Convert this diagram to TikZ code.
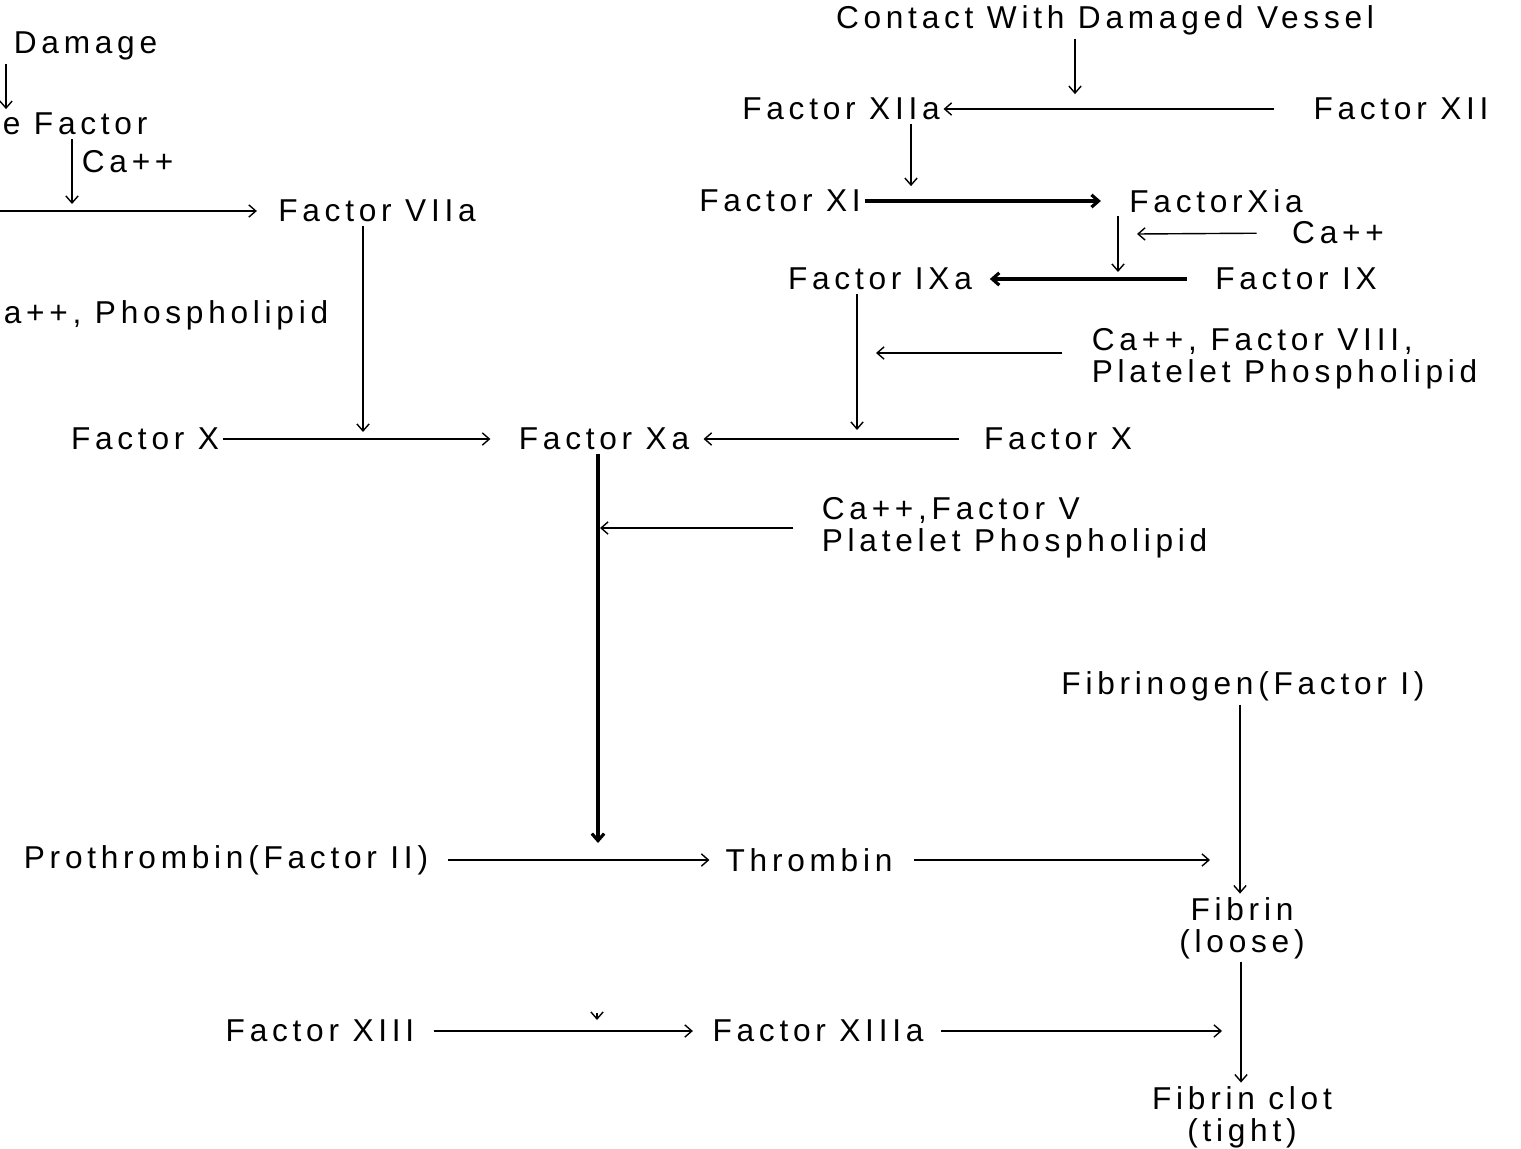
\documentclass[tikz,border=0pt]{standalone}
\usepackage{fontspec}
\setmainfont{Liberation Sans}[LetterSpace=15]
\usetikzlibrary{arrows, arrows.meta, calc, positioning}
\tikzset{fac/.style={inner sep=2pt, font=\fontsize{18}{18}\selectfont}}
\tikzset{fac2/.style={fac, align=left}}
\tikzset{pth/.style={-{Straight Barb[length=4pt,width=7pt]}, line width=.8pt}}
\tikzset{pthk/.style={-{Straight Barb[length=4pt,width=7pt]}, line width=1.8pt}}

\begin{document}
\begin{tikzpicture}[x=0.02cm, y=-0.02cm]
\useasboundingbox (0,0) rectangle (1521,1149);

% extrinsic side
\node [fac, anchor=west] at (10,46) (dmg) {Damage};
\node [fac, anchor=west] at (-1,124) (tf) {e Factor};
\node [fac, anchor=west] at (78,162) (ca1) {Ca++};
\node [fac] at (377,211) (f7a) {Factor VIIa};
\node [fac, anchor=west] at (0,315) (cph) {a++, Phospholipid};
\coordinate (lft) at (0,211);
\coordinate (c7) at (72,204);
\coordinate (j1) at (363,432);
\draw [pth] (6,0 |- dmg.south) -- (6,0 |- tf.north);
\draw [pth] (72,0 |- tf.south) -- (c7);
\draw [pth, shorten >=10pt] (lft) -- (f7a.west);
\draw [pth] (363,0 |- f7a.south) -- (j1);

% intrinsic side
\node [fac] at (1105,20) (ctc) {Contact With Damaged Vessel};
\node [fac] at (841,109) (f12a) {Factor XIIa};
\node [fac] at (1401,109) (f12) {Factor XII};
\node [fac] at (780,201) (f11) {Factor XI};
\node [fac] at (1216,201) (f11a) {FactorXia};
\node [fac] at (1338,233) (ca2) {Ca++};
\node [fac] at (880,279) (f9a) {Factor IXa};
\node [fac] at (1296,279) (f9) {Factor IX};
\node [fac2, anchor=west] at (1088,359) (cof8) {Ca++, Factor VIII,\\Platelet Phospholipid};
\coordinate (j2) at (1118,272);
\coordinate (j3) at (1137,234);
\coordinate (j4) at (857,430);
\coordinate (j5) at (876,353);
\draw [pth] (1075,0 |- ctc.south) -- (1075,0 |- f12a.north);
\draw [pth, shorten <=20pt] (f12) -- (f12a);
\draw [pth] (911,0 |- f12a.south) -- (911,0 |- f11.north);
\draw [pthk, shorten >=14pt] (f11.east) -- (f11a.west);
\draw [pth] (1118,0 |- f11a.south) -- (j2);
\draw [pth, shorten <=18pt] (ca2.west) -- (j3);
\draw [pthk, shorten <=14pt, shorten >=8pt] (f9) -- (f9a);
\draw [pth] (857,0 |- f9a.south) -- (j4);
\draw [pth, shorten <=15pt] (cof8.west |- j5) -- (j5);

% common pathway
\node [fac] at (145,439) (fx1) {Factor X};
\node [fac] at (604,439) (fxa) {Factor Xa};
\node [fac] at (1058,439) (fx2) {Factor X};
\node [fac2, anchor=west] at (818,528) (cof5) {Ca++,Factor V\\Platelet Phospholipid};
\coordinate (j6) at (598,843);
\coordinate (j7) at (600,528);
\draw [pth, shorten >=14pt] (fx1) -- (fxa);
\draw [pth, shorten <=12pt, shorten >=6pt] (fx2) -- (fxa);
\draw [pthk] (598,0 |- fxa.south) -- (j6);
\draw [pth, shorten <=14pt] (cof5.west |- j7) -- (j7);

\node [fac] at (1243,686) (fbg) {Fibrinogen(Factor I)};
\node [fac] at (226,860) (pro) {Prothrombin(Factor II)};
\node [fac] at (809,860) (thr) {Thrombin};
\node [fac, align=center] at (1242,928) (fbn) {Fibrin\\(loose)};
\node [fac] at (320,1031) (f13) {Factor XIII};
\node [fac] at (818,1031) (f13a) {Factor XIIIa};
\node [fac, align=center] at (1242,1117) (clot) {Fibrin clot\\(tight)};
\coordinate (j8) at (1210,860);
\coordinate (j9) at (1222,1031);
\coordinate (tk) at (597,1013);
\draw [pth] (1240,0 |- fbg.south) -- (1240,0 |- fbn.north);
\draw [pth, shorten <=9pt, shorten >=7pt] (pro.east) -- (thr.west);
\draw [pth, shorten <=10pt] (thr.east) -- (j8);
\draw [pth] (1241,0 |- fbn.south) -- (1241,0 |- clot.north);
\draw [pth, shorten <=9pt, shorten >=9pt] (f13) -- (f13a);
\draw [pth, shorten <=8pt] (f13a) -- (j9);
\draw [pth] (tk) -- ++(0,7);
\end{tikzpicture}
\end{document}
